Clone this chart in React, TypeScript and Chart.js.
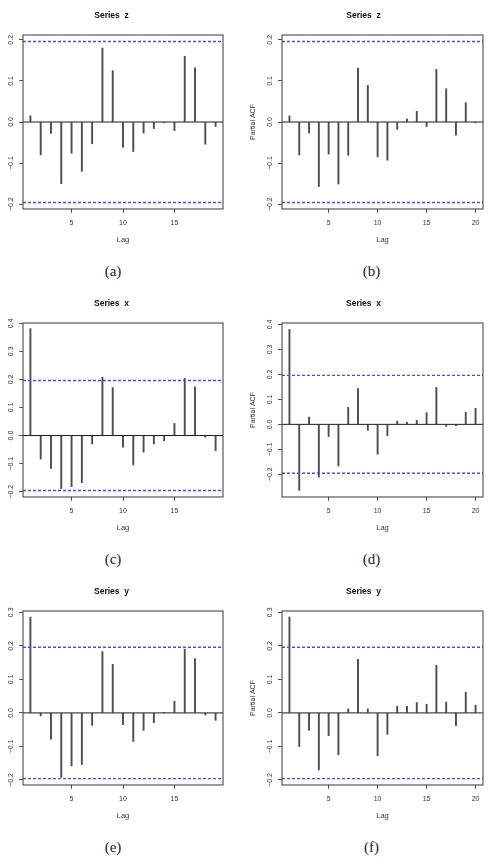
import React, { useEffect, useRef } from "react";
import { Chart, registerables } from "chart.js";

Chart.register(...registerables);

// Lags shown on each kind of correlogram
const LAGS_ACF = [1, 2, 3, 4, 5, 6, 7, 8, 9, 10, 11, 12, 13, 14, 15, 16, 17, 18, 19];
const LAGS_PACF = [1, 2, 3, 4, 5, 6, 7, 8, 9, 10, 11, 12, 13, 14, 15, 16, 17, 18, 19, 20];

// Autocorrelations / partial autocorrelations per series
const ACF_Z = [0.015, -0.08, -0.028, -0.15, -0.076, -0.12, -0.053, 0.18, 0.125, -0.062, -0.072, -0.027, -0.016, -0.002, -0.021, 0.16, 0.132, -0.054, -0.011];
const PACF_Z = [0.015, -0.08, -0.027, -0.157, -0.078, -0.151, -0.081, 0.131, 0.089, -0.085, -0.093, -0.018, 0.007, 0.026, -0.011, 0.128, 0.081, -0.032, 0.047, -0.002];
const ACF_X = [0.381, -0.084, -0.117, -0.189, -0.182, -0.168, -0.03, 0.208, 0.171, -0.041, -0.105, -0.059, -0.03, -0.019, 0.043, 0.204, 0.174, -0.006, -0.054];
const PACF_X = [0.38, -0.264, 0.029, -0.211, -0.049, -0.167, 0.068, 0.143, -0.024, -0.12, -0.045, 0.013, 0.008, 0.016, 0.047, 0.148, -0.008, -0.005, 0.048, 0.064];
const ACF_Y = [0.286, -0.009, -0.078, -0.192, -0.158, -0.154, -0.037, 0.183, 0.145, -0.035, -0.085, -0.052, -0.029, 0.001, 0.035, 0.19, 0.162, -0.006, -0.022];
const PACF_Y = [0.286, -0.1, -0.052, -0.17, -0.068, -0.125, 0.012, 0.16, 0.012, -0.128, -0.064, 0.02, 0.02, 0.031, 0.026, 0.142, 0.032, -0.038, 0.062, 0.023];

// Significance bound (n = 100)
const CI_BOUND = 0.196;

// Axis limits
const ACF_LAG_RANGE = [0.28, 19.72];
const PACF_LAG_RANGE = [0.24, 20.76];
const Z_ACF_YLIM = [-0.2117, 0.2117];
const Z_PACF_YLIM = [-0.2117, 0.2117];
const X_ACF_YLIM = [-0.219, 0.401];
const X_PACF_YLIM = [-0.291, 0.406];
const Y_ACF_YLIM = [-0.215, 0.304];
const Y_PACF_YLIM = [-0.215, 0.304];

// Tick values
const LAG_TICKS_ACF = [5, 10, 15];
const LAG_TICKS_PACF = [5, 10, 15, 20];
const Z_TICKS = [-0.2, -0.1, 0, 0.1, 0.2];
const X_TICKS = [-0.2, -0.1, 0, 0.1, 0.2, 0.3, 0.4];
const Y_TICKS = [-0.2, -0.1, 0, 0.1, 0.2, 0.3];

const SANS = "'Liberation Sans', Arial, sans-serif";
const CANVAS_H = 250;
const ROW_STEP = 288;
const PLOT_BOTTOM = 209;

type PanelProps = {
  title: string;
  yLabel: string;
  lags: number[];
  values: number[];
  xRange: number[];
  yRange: number[];
  xTicks: number[];
  yTicks: number[];
  left: number;
  top: number;
  width: number;
  plotLeft: number;
  plotRight: number;
};

const fmt = (v: number) => (v < 0 ? "\u2212" + Math.abs(v).toFixed(1) : v.toFixed(1));

const boxPlugin = {
  id: "frameBox",
  afterDraw(chart: any) {
    const { ctx, chartArea } = chart;
    ctx.save();
    ctx.strokeStyle = "#4a4a4a";
    ctx.lineWidth = 1.1;
    ctx.strokeRect(chartArea.left, chartArea.top, chartArea.right - chartArea.left, chartArea.bottom - chartArea.top);
    ctx.restore();
  },
};

function Panel(p: PanelProps) {
  const ref = useRef<HTMLCanvasElement | null>(null);

  useEffect(() => {
    if (!ref.current) return;
    const [xmin, xmax] = p.xRange;
    const blue = "#4a4af0";
    const tickFont = { family: SANS, size: 7 };
    const chart = new Chart(ref.current, {
      type: "bar",
      data: {
        datasets: [
          {
            type: "bar",
            data: p.lags.map((l, i) => ({ x: l, y: p.values[i] })),
            backgroundColor: "#4d4d4d",
            borderWidth: 0,
            barThickness: 1.25,
            order: 4,
          } as any,
          {
            type: "line",
            data: [{ x: xmin, y: 0 }, { x: xmax, y: 0 }],
            borderColor: "#1a1a1a",
            borderWidth: 1,
            pointRadius: 0,
            order: 3,
          },
          {
            type: "line",
            data: [{ x: xmin, y: CI_BOUND }, { x: xmax, y: CI_BOUND }],
            borderColor: blue,
            borderWidth: 1.4,
            borderDash: [3, 2],
            pointRadius: 0,
            order: 2,
          },
          {
            type: "line",
            data: [{ x: xmin, y: -CI_BOUND }, { x: xmax, y: -CI_BOUND }],
            borderColor: blue,
            borderWidth: 1.4,
            borderDash: [3, 2],
            pointRadius: 0,
            order: 1,
          },
        ],
      },
      options: {
        animation: false,
        responsive: false,
        maintainAspectRatio: false,
        events: [],
        layout: { padding: { left: 0, right: p.width - p.plotRight, top: 0, bottom: 0 } },
        plugins: {
          legend: { display: false },
          tooltip: { enabled: false },
          title: {
            display: true,
            text: p.title,
            color: "#111",
            font: { family: SANS, size: 8.5, weight: "bold", lineHeight: 1.2 },
            padding: { top: 10.2, bottom: 14.6 },
          },
        },
        scales: {
          x: {
            type: "linear",
            min: xmin,
            max: xmax,
            offset: false,
            grid: { drawOnChartArea: false, drawTicks: true, tickLength: 4, color: "#555", offset: false },
            border: { display: false },
            ticks: { font: tickFont, color: "#333", padding: 5.5, maxRotation: 0, minRotation: 0, callback: (v: any) => String(v) },
            afterBuildTicks: (s: any) => {
              s.ticks = p.xTicks.map((v) => ({ value: v }));
            },
            afterFit: (s: any) => {
              s.height = CANVAS_H - PLOT_BOTTOM;
            },
            title: {
              display: true,
              text: "Lag",
              color: "#333",
              font: { family: SANS, size: 7.5, lineHeight: 1.2 },
              padding: { top: 0, bottom: 5.2 },
            },
          },
          y: {
            type: "linear",
            min: p.yRange[0],
            max: p.yRange[1],
            grid: { drawOnChartArea: false, drawTicks: true, tickLength: 4, color: "#555" },
            border: { display: false },
            ticks: {
              font: tickFont,
              color: "#333",
              padding: 1,
              minRotation: 90,
              maxRotation: 90,
              crossAlign: "center",
              callback: (v: any) => fmt(Number(v)),
            },
            afterBuildTicks: (s: any) => {
              s.ticks = p.yTicks.map((v) => ({ value: v }));
            },
            afterFit: (s: any) => {
              s.width = p.plotLeft;
            },
            title: {
              display: p.yLabel !== "",
              text: p.yLabel,
              color: "#333",
              font: { family: SANS, size: 7, lineHeight: 1.2 },
              padding: { top: 4.5, bottom: 0 },
            },
          },
        },
      } as any,
      plugins: [boxPlugin],
    });
    return () => chart.destroy();
  }, []);

  return (
    <canvas
      ref={ref}
      width={p.width}
      height={CANVAS_H}
      style={{ position: "absolute", left: p.left, top: p.top, width: p.width, height: CANVAS_H }}
    />
  );
}

const LETTERS = ["(a)", "(b)", "(c)", "(d)", "(e)", "(f)"];

export default function App() {
  const cols = [
    { left: 0, width: 244, plotLeft: 23, plotRight: 223, letterX: 113 },
    { left: 244, width: 245, plotLeft: 38, plotRight: 239, letterX: 371.5 },
  ];
  const panels = [
    { title: "Series  z", yLabel: "", lags: LAGS_ACF, values: ACF_Z, xRange: ACF_LAG_RANGE, yRange: Z_ACF_YLIM, xTicks: LAG_TICKS_ACF, yTicks: Z_TICKS },
    { title: "Series  z", yLabel: "Partial ACF", lags: LAGS_PACF, values: PACF_Z, xRange: PACF_LAG_RANGE, yRange: Z_PACF_YLIM, xTicks: LAG_TICKS_PACF, yTicks: Z_TICKS },
    { title: "Series  x", yLabel: "", lags: LAGS_ACF, values: ACF_X, xRange: ACF_LAG_RANGE, yRange: X_ACF_YLIM, xTicks: LAG_TICKS_ACF, yTicks: X_TICKS },
    { title: "Series  x", yLabel: "Partial ACF", lags: LAGS_PACF, values: PACF_X, xRange: PACF_LAG_RANGE, yRange: X_PACF_YLIM, xTicks: LAG_TICKS_PACF, yTicks: X_TICKS },
    { title: "Series  y", yLabel: "", lags: LAGS_ACF, values: ACF_Y, xRange: ACF_LAG_RANGE, yRange: Y_ACF_YLIM, xTicks: LAG_TICKS_ACF, yTicks: Y_TICKS },
    { title: "Series  y", yLabel: "Partial ACF", lags: LAGS_PACF, values: PACF_Y, xRange: PACF_LAG_RANGE, yRange: Y_PACF_YLIM, xTicks: LAG_TICKS_PACF, yTicks: Y_TICKS },
  ];

  return (
    <div style={{ position: "absolute", left: 0, top: 0, width: 489, height: 864, background: "#fff", overflow: "hidden" }}>
      {panels.map((pn, i) => {
        const c = cols[i % 2];
        const row = Math.floor(i / 2);
        return (
          <React.Fragment key={i}>
            <Panel {...pn} left={c.left} top={row * ROW_STEP} width={c.width} plotLeft={c.plotLeft} plotRight={c.plotRight} />
            <div
              style={{
                position: "absolute",
                left: c.letterX,
                top: row * ROW_STEP + 271,
                transform: "translate(-50%, -50%)",
                fontFamily: "'Liberation Serif', 'Times New Roman', serif",
                fontSize: 15,
                color: "#222",
                lineHeight: 1,
                whiteSpace: "nowrap",
              }}
            >
              {LETTERS[i]}
            </div>
          </React.Fragment>
        );
      })}
    </div>
  );
}
